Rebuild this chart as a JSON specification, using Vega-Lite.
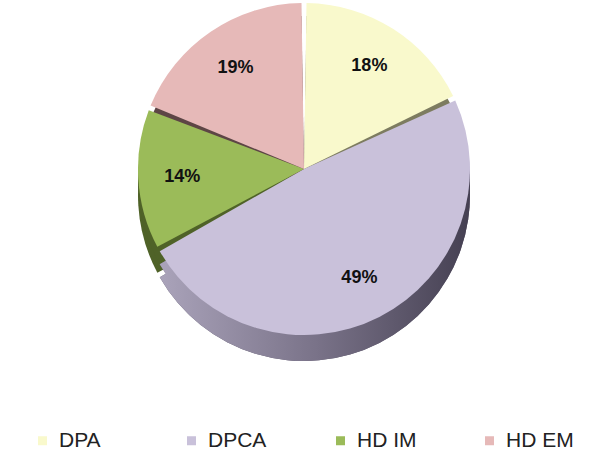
{
  "$schema": "https://vega.github.io/schema/vega-lite/v6.json",
  "width": 608,
  "height": 338,
  "padding": 0,
  "background": "white",
  "view": {"stroke": null},
  "data": {"values": [
    {"cat": "DPA", "k": 1, "share": 18, "label": "18%"},
    {"cat": "DPCA", "k": 2, "share": 49, "label": "49%"},
    {"cat": "HD IM", "k": 3, "share": 14, "label": "14%"},
    {"cat": "HD EM", "k": 4, "share": 19, "label": "19%"}
  ]},
  "encoding": {
    "theta": {"field": "share", "type": "quantitative", "stack": true},
    "order": {"field": "k", "type": "ordinal"}
  },
  "layer": [
    {
      "mark": {"type": "arc", "outerRadius": 166, "padAngle": 0.03, "yOffset": 26},
      "encoding": {
        "color": {"field": "cat", "type": "nominal", "legend": null,
          "scale": {"domain": ["DPA", "DPCA", "HD IM", "HD EM"], "range": ["#7d7c60", "#5e586c", "#4f6228", "#5d4545"]}}
      }
    },
    {
      "mark": {"type": "arc", "outerRadius": 166, "padAngle": 0.03, "yOffset": 13},
      "encoding": {
        "color": {"field": "cat", "type": "nominal", "legend": null,
          "scale": {"domain": ["DPA", "DPCA", "HD IM", "HD EM"], "range": ["#7d7c60", "#837b93", "#4f6228", "#5d4545"]}}
      }
    },
    {
      "transform": [
        {"stack": "share", "groupby": [], "sort": [{"field": "k"}], "as": ["t0", "t1"]},
        {"filter": "datum.cat === 'DPCA'"}
      ],
      "mark": {"type": "arc", "outerRadius": 166, "padAngle": 0.03, "yOffset": 26,
        "fill": {"gradient": "linear", "x1": 0, "y1": 0, "x2": 1, "y2": 0,
          "stops": [{"offset": 0, "color": "#aaa3ba"}, {"offset": 0.5, "color": "#7a7389"}, {"offset": 1, "color": "#454052"}]}},
      "encoding": {
        "theta": {"field": "t0", "type": "quantitative"},
        "theta2": {"field": "t1"}
      }
    },
    {
      "transform": [
        {"stack": "share", "groupby": [], "sort": [{"field": "k"}], "as": ["t0", "t1"]},
        {"filter": "datum.cat === 'DPCA'"}
      ],
      "mark": {"type": "arc", "outerRadius": 166, "padAngle": 0.03, "yOffset": 13,
        "fill": {"gradient": "linear", "x1": 0, "y1": 0, "x2": 1, "y2": 0,
          "stops": [{"offset": 0, "color": "#aaa3ba"}, {"offset": 0.5, "color": "#7a7389"}, {"offset": 1, "color": "#454052"}]}},
      "encoding": {
        "theta": {"field": "t0", "type": "quantitative"},
        "theta2": {"field": "t1"}
      }
    },
    {
      "mark": {"type": "arc", "outerRadius": 166, "padAngle": 0.03},
      "encoding": {
        "color": {"field": "cat", "type": "nominal",
          "scale": {"domain": ["DPA", "DPCA", "HD IM", "HD EM"], "range": ["#f9f9cc", "#c9c1da", "#9bbb59", "#e6b9b8"]},
          "legend": {
            "title": null, "orient": "none", "legendX": 32, "legendY": 430, "direction": "horizontal", "columns": 4,
            "symbolType": "square", "symbolSize": 81, "symbolStrokeWidth": 0,
            "labelFont": "Liberation Sans", "labelFontSize": 21, "labelColor": "#222222",
            "columnPadding": 54, "gridAlign": "all", "labelOffset": 6
          }
        }
      }
    },
    {
      "mark": {"type": "text", "radius": 122, "font": "Liberation Sans", "fontSize": 18, "fontWeight": "bold", "color": "#111111"},
      "encoding": {"text": {"field": "label"}}
    }
  ],
  "resolve": {"scale": {"color": "independent"}, "legend": {"color": "independent"}}
}
